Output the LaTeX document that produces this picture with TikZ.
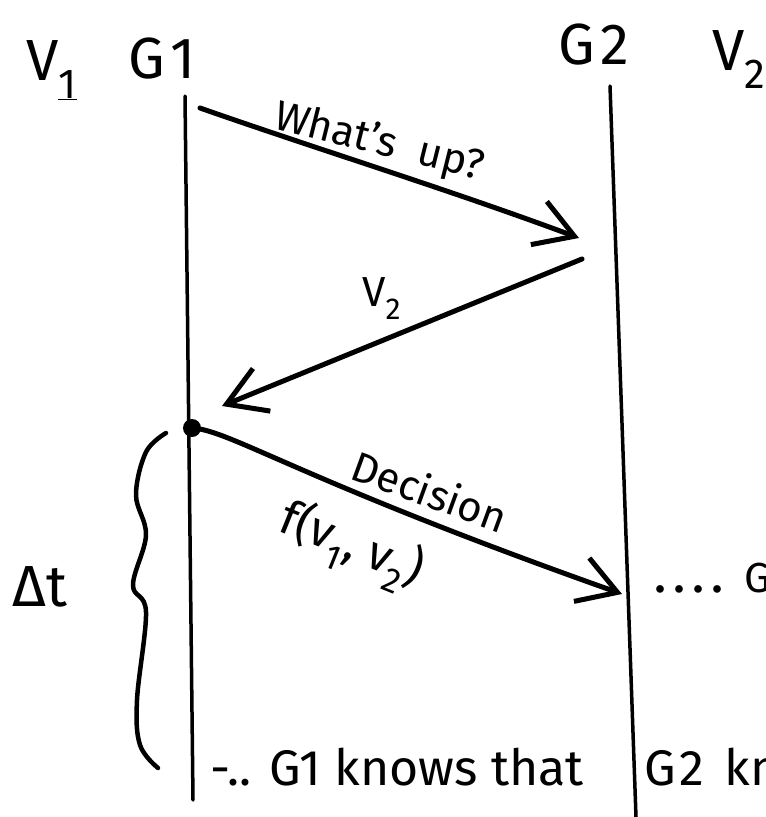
\documentclass[tikz,border=0pt]{standalone}
\usepackage{fontspec}
\usepackage{graphicx}
\setmainfont{Fira Sans}
\usetikzlibrary{arrows.meta}
\newcommand{\lowsub}[1]{\raisebox{-0.32em}{\scalebox{0.72}{#1}}}
\begin{document}
\begin{tikzpicture}[x=1pt,y=-1pt,
  life/.style={line width=3.5pt, line cap=round},
  msg/.style={line width=5pt, line cap=round, line join=round,
    -{Straight Barb[length=38pt,width=46pt]}},
  hand/.style={inner sep=0pt, anchor=base west},
  big/.style={hand, font=\fontsize{58}{60}\selectfont},
  mid/.style={hand, font=\fontsize{42}{44}\selectfont},
]
\path[use as bounding box] (0,0) rectangle (766,817);
\clip (0,0) rectangle (766,817);

% lifelines
\coordinate (g1top) at (185,96);
\coordinate (g1bot) at (193,800);
\coordinate (g2top) at (610,86);
\coordinate (g2bot) at (636,817);
\draw[life] (g1top) -- (g1bot);
\draw[life] (g2top) -- (g2bot);

% headers
\node[big] (v1) at (26,80) {V\lowsub{\underline{1}}};
\node[big] (G1) at (128,78) {G\hspace{6pt}1};
\node[big] (G2) at (558,64) {G\hspace{6pt}2};
\node[big] (v2) at (712,70) {V\lowsub{2}};

% message 1
\coordinate (m1s) at (200,108);
\coordinate (m1e) at (579,238);
\draw[msg] (m1s) .. controls (320,150) and (450,190) .. (m1e);
\node[mid, rotate=-14] (wu) at (272,128) {What's\ \ up?};

% message 2
\coordinate (m2s) at (582,259);
\coordinate (m2e) at (222,406);
\draw[msg] (m2s) -- (m2e);
\node[mid] (lv2) at (362,306) {V\lowsub{2}};

% decision
\coordinate (dot) at (192,428);
\fill (dot) circle (9pt);
\coordinate (m3e) at (622,594);
\draw[msg] (dot) .. controls (230,430) and (300,480) .. (m3e);
\node[mid, rotate=-20] (dec) at (348,478) {Decision};
\node[hand, font=\fontsize{48}{50}\selectfont, rotate=-22] (fv) at (276,530) {f(v\lowsub{1}, v\lowsub{2})};

% brace
\draw[line width=4.5pt, line cap=round, line join=round]
  plot[smooth, tension=0.6] coordinates {(166,433) (146,452) (136,495) (146,535) (133,585) (146,612) (137,700) (140,745) (158,768)};
\node[big] (dt) at (12,606) {Δt};

% right texts
\node[mid] (dots) at (655,592) {\textbf{.\hspace{9pt}.\hspace{9pt}.\hspace{9pt}.}\hspace{22pt}G2};
\node[big, font=\fontsize{50}{52}\selectfont] (know) at (210,785) {-.. G1 knows that};
\node[big, font=\fontsize{50}{52}\selectfont] (g2k) at (644,785) {G\hspace{4pt}2\hspace{20pt}knows};
\end{tikzpicture}
\end{document}
